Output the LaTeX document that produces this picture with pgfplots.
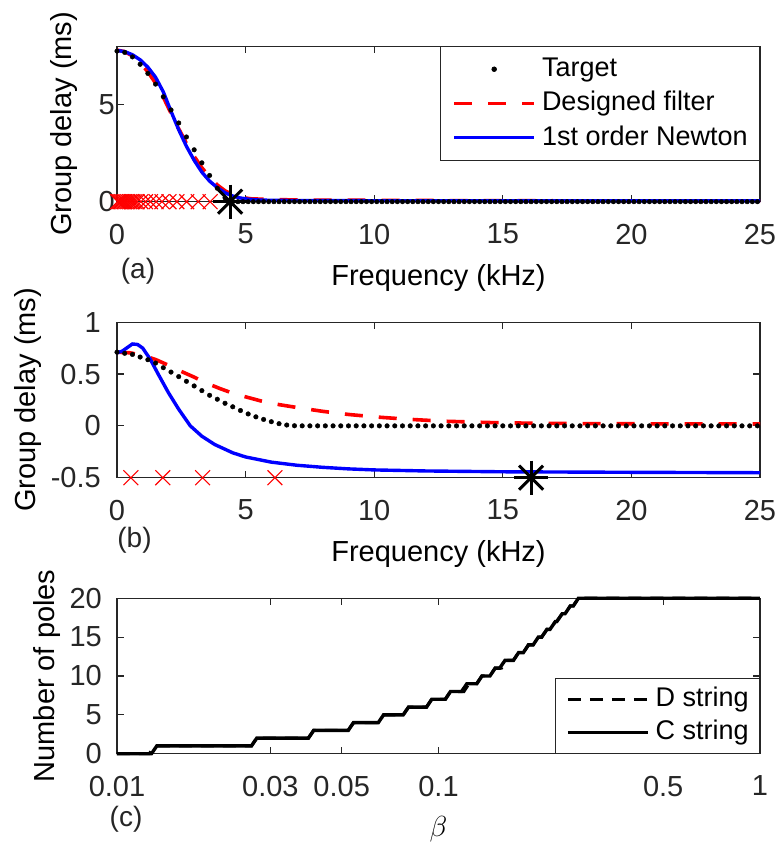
\RequirePackage{fix-cm}
\documentclass[border=0pt]{standalone}
\usepackage{pgfplots}
\pgfplotsset{compat=1.18}
\usepackage{fontspec}
\setmainfont{Liberation Sans}
\definecolor{axgray}{rgb}{0.15,0.15,0.15}
\definecolor{mred}{rgb}{1,0,0}
\definecolor{mblue}{rgb}{0,0,1}
\begin{document}
\fontsize{29}{34}\selectfont
\begin{tikzpicture}
\useasboundingbox (0pt,0pt) rectangle (778pt,844pt);
\pgfplotsset{
  myaxis/.style={
    scale only axis, width=643pt, height=155.5pt,
    anchor=south west,
    axis line style={draw=axgray, line width=1.2pt},
    every tick/.style={draw=axgray, line width=1.1pt},
    tick align=inside, major tick length=7pt,
    xtick pos=both, ytick pos=both,
    xticklabel style={text=axgray, font=\fontsize{29}{34}\selectfont, inner sep=0pt, anchor=north, yshift=-22pt},
    label style={text=axgray, font=\fontsize{29.5}{35}\selectfont},
    clip=false,
    every axis x label/.style={at={(axis description cs:0.5,0)}, anchor=center, yshift=-76pt},
    legend cell align=left,
    legend style={draw=axgray, line width=0.8pt, font=\fontsize{27}{32}\selectfont,
      inner xsep=12pt, inner ysep=9pt, row sep=7pt,
      nodes={inner sep=0pt, text height=0.72em, text depth=0.22em},
      /tikz/every odd column/.append style={column sep=6pt}},
    legend image code/.code={\draw[##1] (0pt,0pt) -- (80pt,0pt);},
  },
}
% ---------------- Panel (a)
\begin{axis}[myaxis, at={(117pt,642.3pt)},
  xmin=0, xmax=25, ymin=0, ymax=8,
  xtick={0,5,10,15,20,25}, xticklabels={0,5,10,15,20,25},
  ytick={0,5}, yticklabels={0,5},
  yticklabel style={text=axgray, font=\fontsize{29}{34}\selectfont, inner sep=0pt, anchor=east, xshift=-2pt},
  xlabel={Frequency (kHz)}, ylabel={Group delay (ms)},
  every axis y label/.style={at={(axis description cs:0,0.5)}, rotate=90, anchor=center, yshift=53pt},
  legend style={at={(1,1)}, anchor=north east},
]
\addplot[only marks, mark=*, mark size=2.3pt, black,
  legend image code/.code={\path (0pt,0pt) (80pt,0pt); \fill[black] (40pt,0pt) circle (2.3pt);}]
coordinates {(0,7.75)(0.3,7.68)(0.6,7.45)(0.9,7.07)(1.2,6.6)(1.5,6.05)(1.8,5.4)(2.1,4.72)(2.4,4.05)(2.7,3.33)(3.0,2.67)(3.3,2.0)(3.6,1.35)(3.9,0.69)(4.2,0.2)
(4.5,0)(4.7,0)(4.9,0)(5.1,0)(5.3,0)(5.5,0)(5.7,0)(5.9,0)(6.1,0)(6.3,0)(6.5,0)(6.7,0)(6.9,0)(7.1,0)(7.3,0)(7.5,0)(7.7,0)(7.9,0)
(8.1,0)(8.3,0)(8.5,0)(8.7,0)(8.9,0)(9.1,0)(9.3,0)(9.5,0)(9.7,0)(9.9,0)(10.1,0)(10.3,0)(10.5,0)(10.7,0)(10.9,0)(11.1,0)(11.3,0)
(11.5,0)(11.7,0)(11.9,0)(12.1,0)(12.3,0)(12.5,0)(12.7,0)(12.9,0)(13.1,0)(13.3,0)(13.5,0)(13.7,0)(13.9,0)(14.1,0)(14.3,0)(14.5,0)
(14.7,0)(14.9,0)(15.1,0)(15.3,0)(15.5,0)(15.7,0)(15.9,0)(16.1,0)(16.3,0)(16.5,0)(16.7,0)(16.9,0)(17.1,0)(17.3,0)(17.5,0)(17.7,0)
(17.9,0)(18.1,0)(18.3,0)(18.5,0)(18.7,0)(18.9,0)(19.1,0)(19.3,0)(19.5,0)(19.7,0)(19.9,0)(20.1,0)(20.3,0)(20.5,0)(20.7,0)(20.9,0)
(21.1,0)(21.3,0)(21.5,0)(21.7,0)(21.9,0)(22.1,0)(22.3,0)(22.5,0)(22.7,0)(22.9,0)(23.1,0)(23.3,0)(23.5,0)(23.7,0)(23.9,0)(24.1,0)
(24.3,0)(24.5,0)(24.7,0)(24.9,0)};
\addlegendentry{Target}
\addplot[mred, line width=3.6pt, dash pattern=on 18pt off 16pt]
coordinates {(0,7.8)(0.3,7.72)(0.6,7.5)(0.9,7.15)(1.2,6.68)(1.5,6.1)(1.8,5.38)(2.1,4.55)(2.4,3.75)(2.7,3.0)(3.0,2.33)(3.3,1.75)(3.6,1.26)(3.9,0.86)(4.2,0.56)(4.5,0.36)(4.8,0.23)(5.2,0.15)(6,0.11)(7,0.09)(8,0.08)(10,0.07)(12,0.06)(15,0.05)(20,0.04)(25,0.035)};
\addlegendentry{Designed filter}
\addplot[mblue, line width=3.4pt]
coordinates {(0,7.78)(0.3,7.72)(0.6,7.56)(0.9,7.3)(1.2,6.92)(1.5,6.4)(1.8,5.65)(2.1,4.65)(2.4,3.7)(2.7,2.85)(3.0,2.13)(3.3,1.52)(3.6,1.06)(3.9,0.72)(4.2,0.46)(4.5,0.29)(4.8,0.19)(5.1,0.13)(5.5,0.09)(6,0.07)(7,0.06)(10,0.05)(15,0.045)(20,0.04)(25,0.04)};
\addlegendentry{1st order Newton}
\addplot[forget plot, only marks, mark=x, mark size=10.5pt, mred, line width=1.1pt]
coordinates {(0.02,0)(0.07,0)(0.12,0)(0.17,0)(0.23,0)(0.29,0)(0.35,0)(0.42,0)(0.49,0)(0.55,0)(0.62,0)(0.70,0)(0.78,0)(0.93,0)(1.11,0)(1.30,0)(1.52,0)(1.75,0)(2.02,0)(2.33,0)(2.71,0)(3.16,0)(3.62,0)};
\addplot[forget plot, only marks, mark=+, mark size=17pt, black, line width=3pt] coordinates {(4.4,0)};
\addplot[forget plot, only marks, mark=x, mark size=17pt, black, line width=3pt] coordinates {(4.4,0)};
\end{axis}
% ---------------- Panel (b)
\begin{axis}[myaxis, at={(117pt,366.3pt)},
  xmin=0, xmax=25, ymin=-0.5, ymax=1,
  xtick={0,5,10,15,20,25}, xticklabels={0,5,10,15,20,25},
  ytick={-0.5,0,0.5,1}, yticklabels={-0.5,0,0.5,1},
  yticklabel style={text=axgray, font=\fontsize{29}{34}\selectfont, inner sep=0pt, anchor=east, xshift=-16pt},
  xlabel={Frequency (kHz)}, ylabel={Group delay (ms)},
  every axis y label/.style={at={(axis description cs:0,0.5)}, rotate=90, anchor=center, yshift=88.5pt},
]
\addplot[only marks, mark=*, mark size=2.3pt, black]
coordinates {(0,0.711)(0.3,0.70)(0.6,0.689)(0.9,0.664)(1.2,0.638)(1.5,0.606)(1.8,0.561)(2.1,0.519)(2.4,0.475)(2.7,0.43)(3.0,0.385)(3.3,0.34)(3.6,0.295)(3.9,0.257)(4.2,0.218)(4.5,0.184)(4.8,0.148)(5.1,0.115)(5.4,0.087)(5.7,0.062)(6.0,0.04)(6.3,0.021)(6.6,0.008)(6.9,0.001)
(7.2,0)(7.5,0)(7.8,0)(8.1,0)(8.4,0)(8.7,0)(9.0,0)(9.3,0)(9.6,0)(9.9,0)(10.2,0)(10.5,0)(10.8,0)(11.1,0)(11.4,0)(11.7,0)(12.0,0)
(12.3,0)(12.6,0)(12.9,0)(13.2,0)(13.5,0)(13.8,0)(14.1,0)(14.4,0)(14.7,0)(15.0,0)(15.3,0)(15.6,0)(15.9,0)(16.2,0)(16.5,0)(16.8,0)
(17.1,0)(17.4,0)(17.7,0)(18.0,0)(18.3,0)(18.6,0)(18.9,0)(19.2,0)(19.5,0)(19.8,0)(20.1,0)(20.4,0)(20.7,0)(21.0,0)(21.3,0)(21.6,0)
(21.9,0)(22.2,0)(22.5,0)(22.8,0)(23.1,0)(23.4,0)(23.7,0)(24.0,0)(24.3,0)(24.6,0)(24.9,0)};
\addplot[mred, line width=3.6pt, dash pattern=on 18pt off 16pt]
coordinates {(0,0.71)(0.5,0.705)(1.0,0.68)(1.5,0.64)(2.0,0.585)(2.5,0.525)(3.0,0.47)(3.5,0.41)(4.0,0.36)(4.5,0.315)(5.0,0.28)(5.6,0.24)(6.3,0.205)(7.0,0.177)(8,0.14)(9,0.11)(10,0.087)(11.3,0.064)(12.7,0.045)(14.5,0.032)(16,0.026)(18,0.022)(20,0.02)(25,0.019)};
\addplot[mblue, line width=3.4pt]
coordinates {(0,0.705)(0.2,0.72)(0.4,0.755)(0.6,0.79)(0.8,0.785)(1.0,0.75)(1.3,0.64)(1.6,0.5)(2.0,0.32)(2.4,0.16)(2.85,0.0)(3.3,-0.1)(3.8,-0.18)(4.5,-0.26)(5.0,-0.30)(6,-0.35)(7,-0.38)(8,-0.40)(9,-0.415)(10,-0.425)(12,-0.435)(15,-0.443)(20,-0.448)(25,-0.452)};
\addplot[only marks, mark=x, mark size=10.5pt, mred, line width=1.1pt]
coordinates {(0.54,-0.5)(1.78,-0.5)(3.33,-0.5)(6.14,-0.5)};
\addplot[only marks, mark=+, mark size=17pt, black, line width=3pt] coordinates {(16.1,-0.5)};
\addplot[only marks, mark=x, mark size=17pt, black, line width=3pt] coordinates {(16.1,-0.5)};
\end{axis}
% ---------------- Panel (c)
\begin{axis}[myaxis, at={(117pt,90.3pt)},
  xmode=log, xmin=0.01, xmax=1, ymin=0, ymax=20,
  xtick={0.01,0.03,0.05,0.1,0.5,1}, xticklabels={0.01,0.03,0.05,0.1,0.5,1},
  minor xtick={},
  ytick={0,5,10,15,20}, yticklabels={0,5,10,15,20},
  yticklabel style={text=axgray, font=\fontsize{29}{34}\selectfont, inner sep=0pt, anchor=east, xshift=-15pt},
  xlabel={$\beta$}, ylabel={Number of poles},
  every axis y label/.style={at={(axis description cs:0,0.5)}, rotate=90, anchor=center, yshift=69.5pt},
  legend style={at={(1,0)}, anchor=south east, row sep=6pt, inner ysep=7pt, inner xsep=11pt},
]
\addplot[black, line width=3pt, dash pattern=on 13pt off 9pt]
coordinates {(0.01,0)(0.0126,0)(0.0131,1)(0.0262,1)(0.0272,2)(0.0394,2)(0.0409,3)(0.0524,3)(0.0544,4)(0.065,4)(0.0675,5)(0.0777,5)(0.0807,6)(0.0918,6)(0.0953,7)(0.105,7)(0.109,8)(0.120,8)(0.1245,9)(0.1315,9)(0.1365,10)(0.1446,10)(0.150,11)(0.157,11)(0.163,12)(0.171,12)(0.1775,13)(0.1836,13)(0.1905,14)(0.197,14)(0.2045,15)(0.2094,15)(0.2175,16)(0.2223,16)(0.231,17)(0.2333,17)(0.2425,18)(0.2475,18)(0.257,19)(0.2626,19)(0.2725,20)(1,20)};
\addlegendentry{D string}
\addplot[black, line width=3.4pt]
coordinates {(0.01,0)(0.0128,0)(0.0133,1)(0.0262,1)(0.0272,2)(0.0394,2)(0.0409,3)(0.0524,3)(0.0544,4)(0.065,4)(0.0675,5)(0.0777,5)(0.0807,6)(0.0918,6)(0.0953,7)(0.105,7)(0.109,8)(0.118,8)(0.1225,9)(0.1315,9)(0.1365,10)(0.1446,10)(0.150,11)(0.155,11)(0.161,12)(0.171,12)(0.1775,13)(0.1836,13)(0.1905,14)(0.197,14)(0.2045,15)(0.2094,15)(0.2175,16)(0.2223,16)(0.231,17)(0.2333,17)(0.2425,18)(0.2475,18)(0.257,19)(0.2626,19)(0.2725,20)(1,20)};
\addlegendentry{C string}
\end{axis}
\node[font=\fontsize{28}{33}\selectfont, text=axgray] at (138pt,572.5pt) {(a)};
\node[font=\fontsize{28}{33}\selectfont, text=axgray] at (134.5pt,304pt) {(b)};
\node[font=\fontsize{28}{33}\selectfont, text=axgray] at (126pt,24.5pt) {(c)};
\end{tikzpicture}
\end{document}
